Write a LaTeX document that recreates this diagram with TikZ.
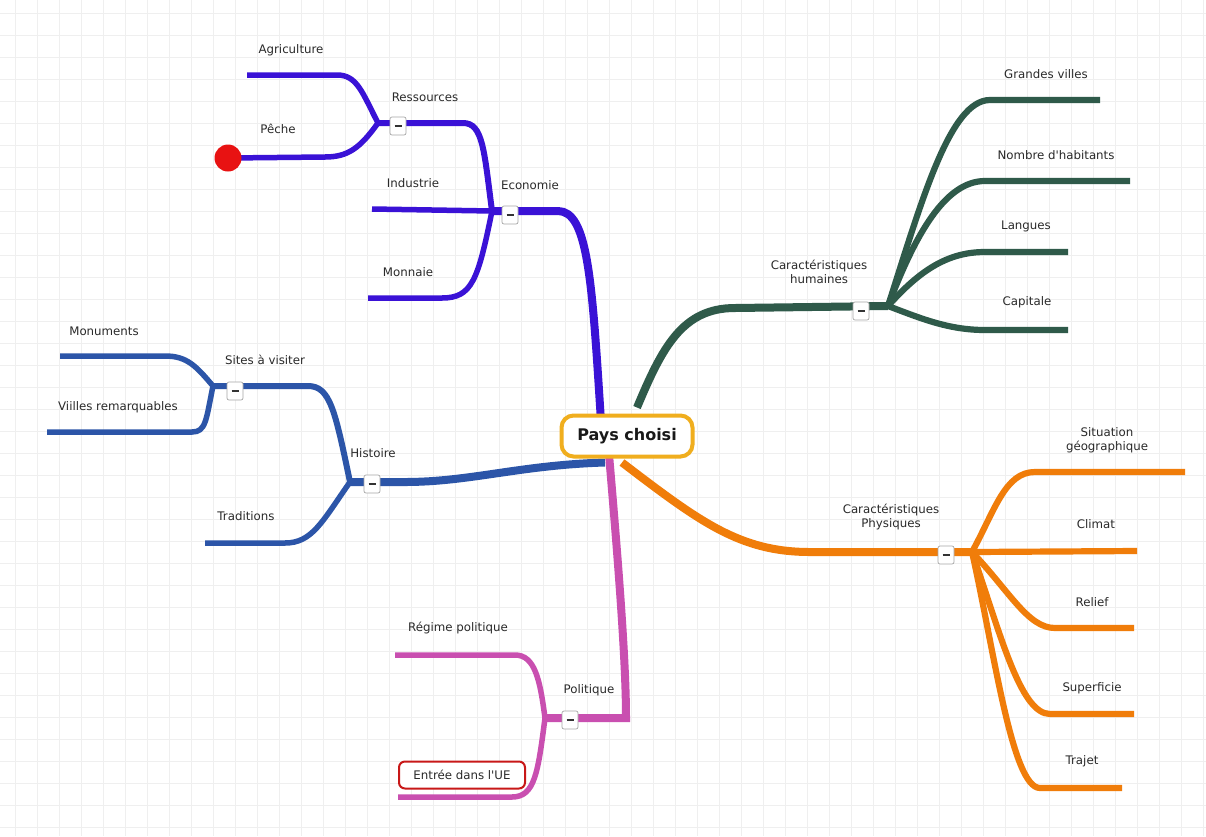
\documentclass[tikz,border=0pt]{standalone}
\usepackage{fontspec}
\setmainfont{DejaVu Sans}[Ligatures=TeXOff]
\usetikzlibrary{calc}
\pgfdeclarelayer{gridlayer}
\pgfdeclarelayer{edgelayer}
\pgfsetlayers{gridlayer,edgelayer,main}
\definecolor{cEco}{HTML}{3A12D6}
\definecolor{cHis}{HTML}{2C55A8}
\definecolor{cPol}{HTML}{C94FB0}
\definecolor{cHum}{HTML}{2F5A4A}
\definecolor{cPhy}{HTML}{F07D0A}
\definecolor{cGold}{HTML}{F0AE1E}
\definecolor{cRed}{HTML}{E81212}
\definecolor{cBox}{HTML}{C81818}
\definecolor{cGrid}{HTML}{EFEFEF}
\definecolor{cTxt}{HTML}{2A2A2A}
\begin{document}
\begin{tikzpicture}[x=1pt,y=-1pt,
  lbl/.style={font=\fontsize{11.8}{13.5}\selectfont, text=cTxt, inner sep=1pt, align=center},
  btn/.style={draw=black!35, fill=white, rounded corners=2pt, minimum width=16pt, minimum height=18pt, inner sep=0pt, line width=0.7pt, text=black!80},
  mainedge/.style={line width=8pt},
  subedge/.style={line width=6pt},
  leafedge/.style={line width=5.5pt},
  bigleaf/.style={line width=6.2pt},
  center/.style={draw=cGold, line width=4pt, fill=white, rounded corners=12pt, minimum width=131pt, minimum height=41pt, font=\fontsize{16}{18}\selectfont\bfseries, text=black!90},
  ue/.style={draw=cBox, line width=2pt, fill=white, rounded corners=6pt, minimum width=126pt, minimum height=27pt, font=\fontsize{11.8}{13.5}\selectfont, text=cTxt}
]
\useasboundingbox (0,0) rectangle (1206,836);
\begin{pgfonlayer}{gridlayer}
\fill[white] (0,0) rectangle (1206,836);
\foreach \x in {15,37,...,1206} \draw[cGrid, line width=0.8pt] (\x,0) -- (\x,836);
\foreach \y in {13,35,...,836} \draw[cGrid, line width=0.8pt] (0,\y) -- (1206,\y);
\end{pgfonlayer}

% central node
\node[center] (root) at (627,436) {Pays choisi};

% junctions
\coordinate (jE) at (492,211);
\coordinate (jR) at (378,123);
\coordinate (jH) at (350,482);
\coordinate (jS) at (213,386);
\coordinate (jP) at (545,718);
\coordinate (jCH) at (888,306);
\coordinate (jCP) at (972,552);

% leaf ends
\coordinate (eAgri) at (247,75);
\node[circle, fill=cRed, minimum size=27pt, inner sep=0pt] (ePeche) at (228,158) {};
\coordinate (eInd) at (372,209);
\coordinate (eMon) at (368,298);
\coordinate (eMonu) at (60,356);
\coordinate (eVil) at (47,432);
\coordinate (eTrad) at (205,543);
\coordinate (eReg) at (395,655);
\coordinate (eUE) at (398,797);
\coordinate (eGV) at (1100,100);
\coordinate (eNH) at (1130,181);
\coordinate (eLan) at (1068,252);
\coordinate (eCap) at (1068,330);
\coordinate (eSit) at (1185,472);
\coordinate (eCli) at (1137,551);
\coordinate (eRel) at (1134,628);
\coordinate (eSup) at (1134,714);
\coordinate (eTra) at (1122,788);

% edges
\begin{pgfonlayer}{edgelayer}
% Economie
\draw[cEco, mainedge] ([xshift=-26pt,yshift=-8pt]root.north) .. controls (592,280) and (588,211) .. (558,211) -- (jE);
\draw[cEco, subedge] (jE) .. controls (484,150) and (483,123) .. (463,123) -- (jR);
\draw[cEco, leafedge] (jE) -- (eInd);
\draw[cEco, leafedge] (jE) .. controls (478,280) and (472,298) .. (442,298) -- (eMon);
\draw[cEco, leafedge] (jR) .. controls (362,92) and (357,75) .. (337,75) -- (eAgri);
\draw[cEco, leafedge] (jR) .. controls (360,148) and (348,157) .. (325,157) -- (ePeche.center);
% Histoire
\draw[cHis, mainedge] ([xshift=-22pt,yshift=-4pt]root.south) .. controls (520,465) and (470,482) .. (405,482) -- (jH);
\draw[cHis, subedge] (jH) .. controls (335,410) and (330,386) .. (308,386) -- (jS);
\draw[cHis, leafedge] (jH) .. controls (322,522) and (312,543) .. (285,543) -- (eTrad);
\draw[cHis, leafedge] (jS) .. controls (196,366) and (187,356) .. (165,356) -- (eMonu);
\draw[cHis, leafedge] (jS) .. controls (206,420) and (206,432) .. (192,432) -- (eVil);
% Politique
\draw[cPol, mainedge] ([xshift=-18pt,yshift=4pt]root.south) .. controls (618,560) and (626,660) .. (626,718) -- (jP);
\draw[cPol, leafedge] (jP) .. controls (540,680) and (535,655) .. (515,655) -- (eReg);
\draw[cPol, leafedge] (jP) .. controls (538,772) and (535,797) .. (512,797) -- (eUE);
% Caracteristiques humaines
\draw[cHum, mainedge] ([xshift=10pt,yshift=6pt]root.north) .. controls (662,348) and (682,308) .. (735,308) -- (jCH);
\draw[cHum, bigleaf] (jCH) .. controls (922,200) and (950,100) .. (990,100) -- (eGV);
\draw[cHum, bigleaf] (jCH) .. controls (915,235) and (945,181) .. (985,181) -- (eNH);
\draw[cHum, bigleaf] (jCH) .. controls (920,270) and (948,252) .. (985,252) -- (eLan);
\draw[cHum, bigleaf] (jCH) .. controls (920,318) and (948,330) .. (985,330) -- (eCap);
% Caracteristiques physiques
\draw[cPhy, mainedge] ([xshift=-5pt,yshift=-4pt]root.south) .. controls (700,522) and (740,552) .. (810,552) -- (jCP);
\draw[cPhy, bigleaf] (jCP) .. controls (995,510) and (1005,472) .. (1035,472) -- (eSit);
\draw[cPhy, bigleaf] (jCP) -- (eCli);
\draw[cPhy, bigleaf] (jCP) .. controls (1010,592) and (1028,628) .. (1055,628) -- (eRel);
\draw[cPhy, bigleaf] (jCP) .. controls (1000,632) and (1020,714) .. (1050,714) -- (eSup);
\draw[cPhy, bigleaf] (jCP) .. controls (994,650) and (1012,788) .. (1040,788) -- (eTra);
\end{pgfonlayer}

% collapse buttons
\node[btn] (bE) at (510,215) {\rule{7pt}{2.6pt}};
\node[btn] (bR) at (398,126) {\rule{7pt}{2.6pt}};
\node[btn] (bS) at (235,391) {\rule{7pt}{2.6pt}};
\node[btn] (bH) at (372,484) {\rule{7pt}{2.6pt}};
\node[btn] (bP) at (570,720) {\rule{7pt}{2.6pt}};
\node[btn] (bCH) at (861,311) {\rule{7pt}{2.6pt}};
\node[btn] (bCP) at (946,555) {\rule{7pt}{2.6pt}};

% labels
\node[lbl] (tAgri) at (291,50) {Agriculture};
\node[lbl] (tRes) at (425,97) {Ressources};
\node[lbl] (tPec) at (278,129) {Pêche};
\node[lbl] (tInd) at (413,183) {Industrie};
\node[lbl] (tEco) at (530,185) {Economie};
\node[lbl] (tMon) at (408,272) {Monnaie};
\node[lbl] (tMonu) at (104,331) {Monuments};
\node[lbl] (tSit) at (265,360) {Sites à visiter};
\node[lbl] (tVil) at (118,407) {Viilles remarquables};
\node[lbl] (tHis) at (373,453) {Histoire};
\node[lbl] (tTra) at (246,516) {Traditions};
\node[lbl] (tReg) at (458,628) {Régime politique};
\node[lbl] (tPol) at (589,690) {Politique};
\node[ue] (tUE) at (462,775) {Entrée dans l'UE};
\node[lbl] (tCH) at (819,272) {Caractéristiques\\humaines};
\node[lbl] (tGV) at (1046,74) {Grandes villes};
\node[lbl] (tNH) at (1056,155) {Nombre d'habitants};
\node[lbl] (tLan) at (1026,226) {Langues};
\node[lbl] (tCap) at (1027,302) {Capitale};
\node[lbl] (tCP) at (891,517) {Caractéristiques\\Physiques};
\node[lbl] (tSitg) at (1107,440) {Situation\\géographique};
\node[lbl] (tCli) at (1096,524) {Climat};
\node[lbl] (tRel) at (1092,602) {Relief};
\node[lbl] (tSup) at (1092,688) {Superficie};
\node[lbl] (tTrj) at (1082,761) {Trajet};
\end{tikzpicture}
\end{document}
